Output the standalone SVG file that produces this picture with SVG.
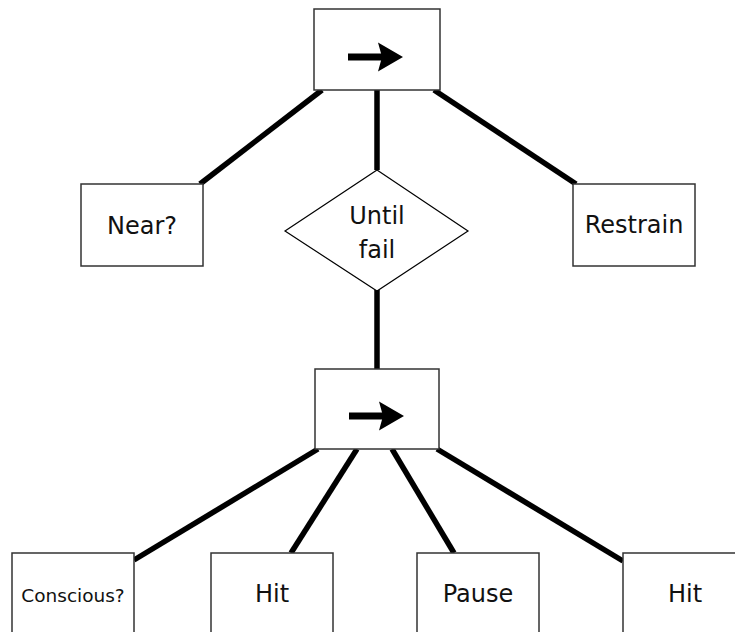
<svg xmlns="http://www.w3.org/2000/svg" width="735" height="632" viewBox="0 0 735 632">
  <style>
    .box { fill: #ffffff; stroke: #333333; stroke-width: 1.5; }
    .dia { fill: #ffffff; stroke: #000000; stroke-width: 1.2; }
    .edge { stroke: #000000; stroke-width: 5.5; fill: none; stroke-linecap: butt; }
    .lbl { font-family: "DejaVu Sans", "Liberation Sans", sans-serif; font-size: 24px; fill: #111111; text-anchor: middle; }
    .small { font-size: 18.5px; }
  </style>
  <defs>
    <!-- sequence icon: thick shaft with a notched head -->
    <g id="seqArrow">
      <rect x="0" y="-3.5" width="36" height="7" fill="#000"/>
      <polygon points="30,-14.5 55,0 30,14.5 34,0" fill="#000"/>
    </g>
  </defs>

  <rect width="735" height="632" fill="#ffffff"/>

  <!-- connectors -->
  <g id="connectors">
    <line class="edge" x1="322" y1="90" x2="200" y2="184"/>
    <line class="edge" x1="377" y1="90" x2="377" y2="170"/>
    <line class="edge" x1="434" y1="90" x2="576" y2="184"/>
    <line class="edge" x1="377" y1="290" x2="377" y2="369"/>
    <line class="edge" x1="318" y1="449" x2="134" y2="560"/>
    <line class="edge" x1="357" y1="449" x2="291" y2="553"/>
    <line class="edge" x1="392" y1="449" x2="454" y2="553"/>
    <line class="edge" x1="437" y1="449" x2="623" y2="561"/>
  </g>

  <!-- root sequence -->
  <g id="seq-root">
    <rect class="box" x="314" y="9" width="126" height="81"/>
    <use href="#seqArrow" x="348" y="57"/>
  </g>

  <g id="near">
    <rect class="box" x="81" y="184" width="122" height="82"/>
    <text class="lbl" x="142" y="234">Near?</text>
  </g>

  <g id="until-fail">
    <polygon class="dia" points="377,170 468,231 377,291 285,231"/>
    <text class="lbl" x="377" y="224">Until</text>
    <text class="lbl" x="377" y="258">fail</text>
  </g>

  <g id="restrain">
    <rect class="box" x="573" y="184" width="122" height="82"/>
    <text class="lbl" x="634" y="233">Restrain</text>
  </g>

  <!-- inner sequence -->
  <g id="seq-inner">
    <rect class="box" x="315" y="369" width="124" height="80"/>
    <use href="#seqArrow" x="349" y="416"/>
  </g>

  <g id="conscious">
    <rect class="box" x="12" y="553" width="122" height="82"/>
    <text class="lbl small" x="73" y="602">Conscious?</text>
  </g>

  <g id="hit-1">
    <rect class="box" x="211" y="553" width="122" height="82"/>
    <text class="lbl" x="272" y="602">Hit</text>
  </g>

  <g id="pause">
    <rect class="box" x="417" y="553" width="122" height="82"/>
    <text class="lbl" x="478" y="602">Pause</text>
  </g>

  <g id="hit-2">
    <rect class="box" x="623" y="553" width="122" height="82"/>
    <text class="lbl" x="685" y="602">Hit</text>
  </g>
</svg>
